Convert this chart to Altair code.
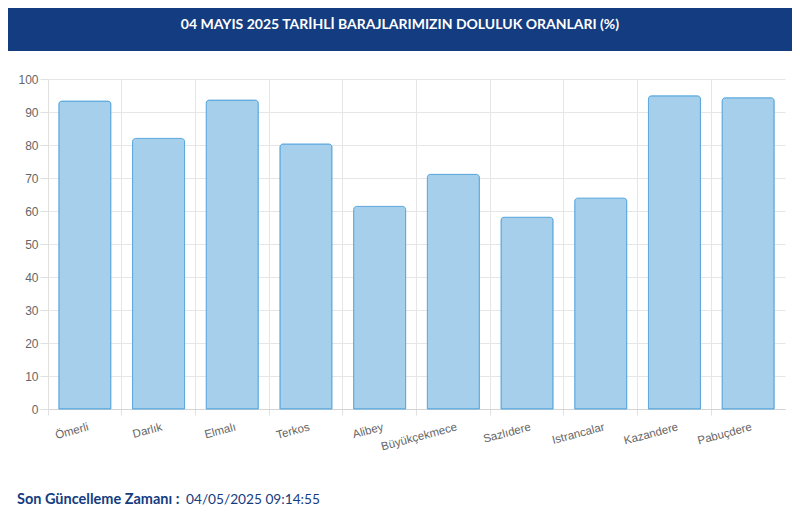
import altair as alt
import pandas as pd

names = ["Ömerli", "Darlık", "Elmalı", "Terkos", "Alibey", "Büyükçekmece",
         "Sazlıdere", "Istrancalar", "Kazandere", "Pabuçdere"]
values = [93.3, 82.0, 93.6, 80.3, 61.4, 71.1, 58.1, 63.9, 94.9, 94.3]
y_ticks = [0, 10, 20, 30, 40, 50, 60, 70, 80, 90, 100]
title_text = ["04 MAYIS 2025 TARİHLİ BARAJLARIMIZIN DOLULUK ORANLARI (%)"]
footer_label = ["Son Güncelleme Zamanı :"]
footer_time = ["04/05/2025 09:14:55"]

df = pd.DataFrame({"name": names, "value": values})

W, H = 737, 330

x_enc = alt.X(
    "name:N", sort=names, title=None,
    scale=alt.Scale(paddingInner=0, paddingOuter=0),
    axis=alt.Axis(
        bandPosition=0, grid=True, gridColor="#e6e6e6", gridWidth=1,
        domainColor="#d4d4d4", tickColor="#e0e0e0", tickSize=6,
        labelAngle=345, labelAlign="right", labelBaseline="top",
        labelOffset=2, labelPadding=6, labelFont="Liberation Sans",
        labelFontSize=11.5, labelColor="#666666",
    ),
)
y_enc = alt.Y(
    "value:Q", title=None,
    scale=alt.Scale(domain=[0, 100], nice=False),
    axis=alt.Axis(
        values=y_ticks, grid=True, gridColor="#e6e6e6", domainColor="#e0e0e0",
        tickColor="#e0e0e0", tickSize=8, labelPadding=2,
        labelFont="Liberation Sans", labelFontSize=12, labelColor="#666666",
    ),
)

bars = alt.Chart(df).mark_bar(
    width=alt.RelativeBandSize(0.706),
    fill="#a5cfea", stroke="#5aa7dd", strokeWidth=1,
    cornerRadiusTopLeft=3, cornerRadiusTopRight=3,
).encode(x=x_enc, y=y_enc)

header_bg = alt.Chart(pd.DataFrame({"t": title_text})).mark_rect(
    color="#143c80"
).encode(
    x=alt.value(-40), x2=alt.value(744), y=alt.value(-71), y2=alt.value(-28)
)
header_txt = alt.Chart(pd.DataFrame({"t": title_text})).mark_text(
    color="white", font="Lato", fontWeight="bold", fontSize=14,
    align="center", baseline="middle",
).encode(text="t:N", x=alt.value(352), y=alt.value(-54))

foot1 = alt.Chart(pd.DataFrame({"t": footer_label})).mark_text(
    color="#143c80", font="Lato", fontWeight="bold", fontSize=14.5,
    align="left", baseline="middle",
).encode(text="t:N", x=alt.value(-31), y=alt.value(421))
foot2 = alt.Chart(pd.DataFrame({"t": footer_time})).mark_text(
    color="#143c80", font="Lato", fontSize=13.7,
    align="left", baseline="middle",
).encode(text="t:N", x=alt.value(138), y=alt.value(421))

chart = alt.layer(bars, header_bg, header_txt, foot1, foot2).properties(
    width=W, height=H,
    autosize=alt.AutoSizeParams(type="none"),
    padding={"left": 40, "top": 71, "right": 7, "bottom": 102},
).configure_view(strokeWidth=0)

chart.save("out.html", embed_options={"renderer": "svg", "actions": False})
